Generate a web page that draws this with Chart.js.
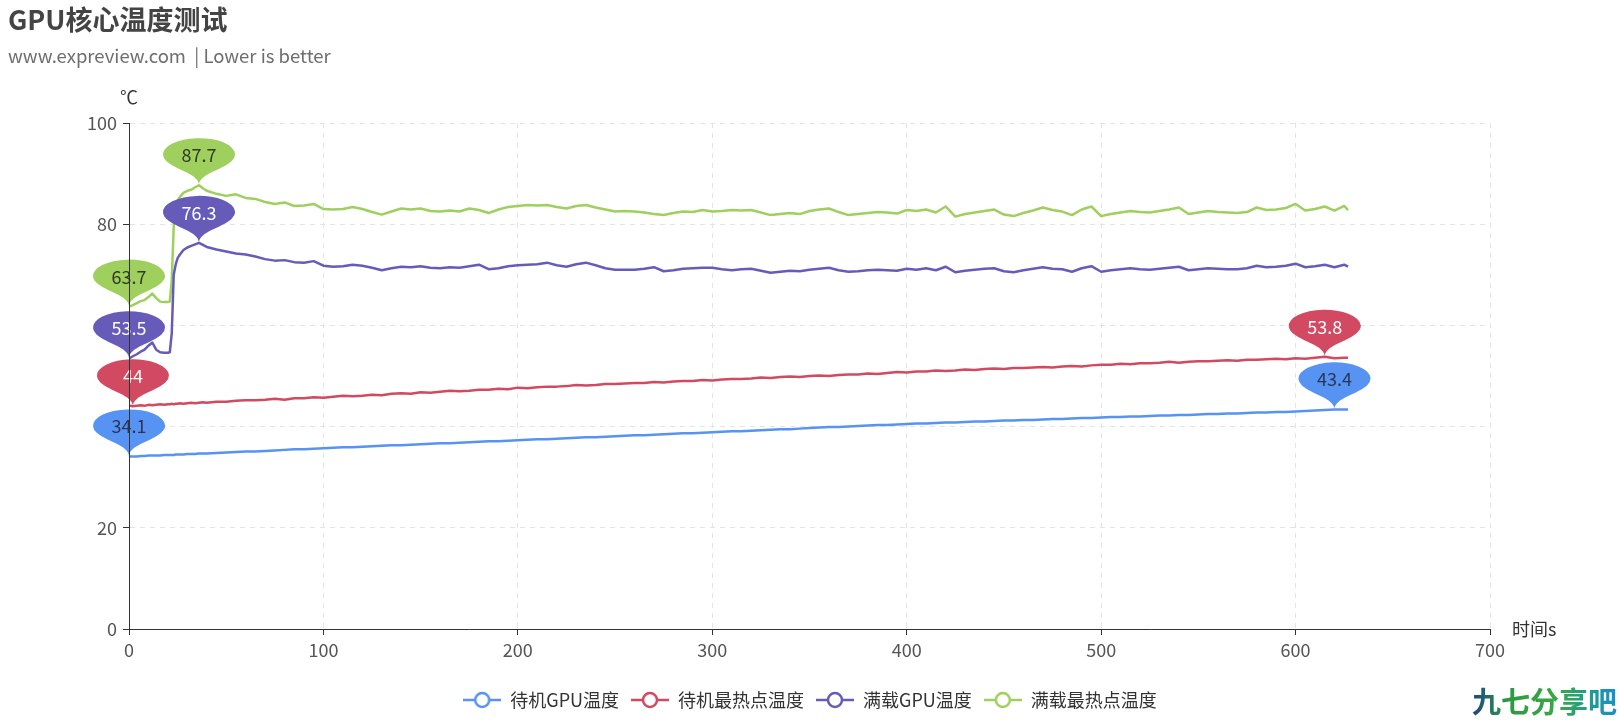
<!DOCTYPE html>
<html>
<head>
<meta charset="utf-8">
<title>GPU核心温度测试</title>
<script src="https://cdn.jsdelivr.net/npm/chart.js@4.4.1/dist/chart.umd.min.js"></script>
<style>
  html, body { margin: 0; padding: 0; background: #fff; }
  canvas { display: block; }
</style>
</head>
<body>
<canvas id="chart" width="1620" height="720"></canvas>
<script>
// seconds since start
const times = [
  0, 2, 4, 6, 8, 10, 12, 14, 16, 18, 20, 21, 22, 23, 24, 25, 26, 28, 30, 32, 34, 36, 38, 40,
  45, 50, 55, 60, 65, 70, 75, 80, 85, 90, 95, 100,
  105, 110, 115, 120, 125, 130, 135, 140, 145, 150, 155, 160, 165, 170, 175, 180, 185, 190, 195, 200,
  205, 210, 215, 220, 225, 230, 235, 240, 245, 250, 255, 260, 265, 270, 275, 280, 285, 290, 295, 300,
  305, 310, 315, 320, 325, 330, 335, 340, 345, 350, 355, 360, 365, 370, 375, 380, 385, 390, 395, 400,
  405, 410, 415, 420, 425, 430, 435, 440, 445, 450, 455, 460, 465, 470, 475, 480, 485, 490, 495, 500,
  505, 510, 515, 520, 525, 530, 535, 540, 545, 550, 555, 560, 565, 570, 575, 580, 585, 590, 595, 600,
  605, 610, 615, 620, 625, 627
];

const idleGpu = [
  34.1, 34.1, 34.1, 34.2, 34.2, 34.3, 34.3, 34.3, 34.3, 34.4, 34.4, 34.4, 34.4, 34.4, 34.5, 34.5, 34.5, 34.5, 34.6, 34.6, 34.6, 34.7, 34.7, 34.7,
  34.8, 34.9, 35.0, 35.1, 35.1, 35.2, 35.3, 35.4, 35.5, 35.5, 35.6, 35.7,
  35.8, 35.9, 35.9, 36.0, 36.1, 36.2, 36.3, 36.3, 36.4, 36.5, 36.6, 36.7, 36.7, 36.8, 36.9, 37.0, 37.1, 37.1, 37.2, 37.3,
  37.4, 37.5, 37.5, 37.6, 37.7, 37.8, 37.9, 37.9, 38.0, 38.1, 38.2, 38.3, 38.3, 38.4, 38.5, 38.6, 38.7, 38.7, 38.8, 38.9,
  39.0, 39.1, 39.1, 39.2, 39.3, 39.4, 39.5, 39.5, 39.6, 39.7, 39.8, 39.9, 39.9, 40.0, 40.1, 40.2, 40.3, 40.3, 40.4, 40.5,
  40.6, 40.6, 40.7, 40.8, 40.8, 40.9, 41.0, 41.0, 41.1, 41.2, 41.2, 41.3, 41.3, 41.4, 41.5, 41.5, 41.6, 41.7, 41.7, 41.8,
  41.9, 41.9, 42.0, 42.0, 42.1, 42.2, 42.2, 42.3, 42.3, 42.4, 42.5, 42.5, 42.6, 42.6, 42.7, 42.8, 42.8, 42.9, 42.9, 43.0,
  43.1, 43.2, 43.3, 43.4, 43.4, 43.4
];

const idleHot = [
  44.2, 44.0, 44.1, 44.2, 44.1, 44.3, 44.2, 44.3, 44.4, 44.3, 44.4, 44.4, 44.5, 44.4, 44.5, 44.5, 44.6, 44.5, 44.6, 44.7, 44.6, 44.7, 44.8, 44.7,
  44.9, 44.9, 45.1, 45.2, 45.2, 45.3, 45.5, 45.3, 45.6, 45.6, 45.8, 45.7,
  45.9, 46.1, 46.0, 46.1, 46.3, 46.2, 46.5, 46.6, 46.5, 46.8, 46.7, 46.9, 47.1, 47.0, 47.1, 47.3, 47.3, 47.5, 47.4, 47.7,
  47.6, 47.8, 47.9, 47.9, 48.0, 48.2, 48.1, 48.2, 48.4, 48.4, 48.5, 48.6, 48.6, 48.8, 48.7, 48.9, 49.0, 49.0, 49.2, 49.1,
  49.3, 49.4, 49.4, 49.5, 49.7, 49.6, 49.8, 49.9, 49.8, 50.0, 50.1, 50.0, 50.2, 50.3, 50.3, 50.5, 50.4, 50.6, 50.8, 50.7,
  50.9, 50.9, 51.1, 51.0, 51.1, 51.3, 51.2, 51.4, 51.5, 51.4, 51.6, 51.6, 51.7, 51.8, 51.7, 51.9, 52.0, 51.9, 52.1, 52.2,
  52.2, 52.4, 52.3, 52.5, 52.5, 52.6, 52.8, 52.6, 52.8, 52.9, 52.9, 53.0, 53.1, 53.0, 53.2, 53.2, 53.3, 53.4, 53.3, 53.5,
  53.4, 53.6, 53.8, 53.5, 53.6, 53.6
];

const loadGpu = [
  53.5, 53.9, 54.3, 54.8, 55.2, 56.0, 56.6, 55.2, 54.7, 54.6, 54.6, 54.7, 58.5, 70.0, 72.0, 73.3, 73.9, 74.9, 75.4, 75.7, 76.0, 76.3, 75.9, 75.5,
  75.0, 74.6, 74.2, 74.0, 73.6, 73.1, 72.8, 72.9, 72.5, 72.4, 72.7, 71.8,
  71.6, 71.7, 72.0, 71.8, 71.4, 70.9, 71.3, 71.6, 71.5, 71.7, 71.4, 71.3, 71.5, 71.4, 71.7, 72.0, 71.1, 71.3, 71.7, 71.9,
  72.0, 72.1, 72.4, 71.9, 71.6, 72.1, 72.4, 71.9, 71.3, 71.0, 71.0, 71.0, 71.2, 71.5, 70.7, 70.9, 71.2, 71.3, 71.4, 71.4,
  71.1, 70.9, 71.1, 71.2, 70.8, 70.4, 70.6, 70.8, 70.7, 71.0, 71.2, 71.4, 70.9, 70.6, 70.7, 70.9, 71.0, 70.9, 70.8, 71.2,
  71.0, 71.3, 70.9, 71.6, 70.5, 70.8, 71.0, 71.2, 71.3, 70.7, 70.5, 70.9, 71.2, 71.5, 71.2, 71.1, 70.6, 71.3, 71.7, 70.6,
  70.9, 71.1, 71.3, 71.1, 71.0, 71.2, 71.4, 71.6, 70.9, 71.1, 71.3, 71.2, 71.1, 71.1, 71.3, 71.8, 71.5, 71.6, 71.8, 72.2,
  71.5, 71.7, 72.0, 71.5, 72.0, 71.6
];

const loadHot = [
  63.7, 64.0, 64.4, 64.8, 65.0, 65.6, 66.3, 65.4, 64.7, 64.6, 64.6, 64.7, 69.0, 79.5, 83.0, 84.6, 85.3, 86.2, 86.6, 86.8, 87.3, 87.7, 87.1, 86.6,
  86.0, 85.6, 85.9, 85.2, 85.0, 84.4, 84.0, 84.3, 83.6, 83.7, 84.0, 83.0,
  82.9, 83.0, 83.4, 83.0, 82.4, 81.9, 82.5, 83.1, 82.9, 83.1, 82.6, 82.5, 82.7, 82.5, 83.1, 82.8, 82.2, 82.9, 83.4, 83.6,
  83.8, 83.7, 83.8, 83.4, 83.1, 83.6, 83.8, 83.3, 82.9, 82.5, 82.6, 82.5, 82.3, 82.0, 81.8, 82.2, 82.5, 82.4, 82.8, 82.5,
  82.6, 82.8, 82.7, 82.8, 82.3, 81.8, 82.0, 82.2, 82.0, 82.6, 82.9, 83.1, 82.4, 81.8, 82.0, 82.2, 82.4, 82.3, 82.1, 82.8,
  82.6, 82.9, 82.3, 83.5, 81.5, 82.0, 82.3, 82.6, 82.9, 81.9, 81.6, 82.2, 82.7, 83.3, 82.8, 82.5, 81.8, 82.9, 83.5, 81.6,
  82.0, 82.3, 82.6, 82.4, 82.3, 82.6, 82.9, 83.3, 82.0, 82.3, 82.6, 82.4, 82.3, 82.2, 82.4, 83.3, 82.8, 82.9, 83.2, 84.0,
  82.7, 83.0, 83.5, 82.7, 83.6, 82.8
];

const seriesNames = ['待机GPU温度', '待机最热点温度', '满载GPU温度', '满载最热点温度'];
const seriesValues = [idleGpu, idleHot, loadGpu, loadHot];
const seriesColors = ['#5793f3', '#d14a61', '#675bba', '#9fcf5d'];
const pinTextColors = ['#2b3552', '#ffffff', '#ffffff', '#2f3a22'];

const FONT = '"Noto Sans CJK SC", "Noto Sans", sans-serif';
Chart.defaults.font.family = FONT;

function legendIcon(color) {
  let c = document.createElement('canvas');
  c.width = 38;
  c.height = 20;
  let g = c.getContext('2d');
  g.strokeStyle = color;
  g.lineWidth = 2.5;
  g.beginPath();
  g.moveTo(0, 10);
  g.lineTo(38, 10);
  g.stroke();
  g.beginPath();
  g.arc(19, 10, 7, 0, Math.PI * 2);
  g.fillStyle = '#fff';
  g.fill();
  g.stroke();
  return c;
}

// echarts style "pin" balloon, tip sits on the point
function drawPin(ctx, x, y, color, text, textColor) {
  const r = 0.6, h = 2;
  const dy = r * r / (h - r);
  const cy = -h + r + dy;
  const angle = Math.asin(dy / r);
  const dx = Math.cos(angle) * r;
  const tanX = Math.sin(angle), tanY = Math.cos(angle);
  const cp = r * 0.6, cp2 = r * 0.7;
  const sx = 60, sy = 27;

  ctx.save();
  ctx.beginPath();
  ctx.save();
  ctx.translate(x, y);
  ctx.scale(sx, sy);
  ctx.moveTo(-dx, cy + dy);
  ctx.arc(0, cy, r, Math.PI - angle, Math.PI * 2 + angle);
  ctx.bezierCurveTo(dx - tanX * cp, cy + dy + tanY * cp, 0, -cp2, 0, 0);
  ctx.bezierCurveTo(0, -cp2, -dx + tanX * cp, cy + dy + tanY * cp, -dx, cy + dy);
  ctx.closePath();
  ctx.restore();
  ctx.fillStyle = color;
  ctx.fill();

  ctx.fillStyle = textColor;
  ctx.font = '18px ' + FONT;
  ctx.textAlign = 'center';
  ctx.textBaseline = 'middle';
  ctx.fillText(text, x, y + cy * sy + 1);
  ctx.restore();
}

const pinPlugin = {
  id: 'pins',
  afterDatasetsDraw(chart) {
    let ctx = chart.ctx;
    seriesValues.forEach((vals, i) => {
      let meta = chart.getDatasetMeta(i);
      let maxI = 0, minI = 0;
      vals.forEach((v, j) => {
        if (v > vals[maxI]) maxI = j;
        if (v < vals[minI]) minI = j;
      });
      [maxI, minI].forEach(j => {
        let p = meta.data[j];
        drawPin(ctx, p.x, p.y, seriesColors[i], String(vals[j]), pinTextColors[i]);
      });
    });
    // y axis line stays on top of the pins
    let area = chart.chartArea;
    ctx.save();
    ctx.strokeStyle = '#333';
    ctx.lineWidth = 1;
    ctx.beginPath();
    ctx.moveTo(area.left + 0.5, area.top);
    ctx.lineTo(area.left + 0.5, area.bottom);
    ctx.stroke();
    ctx.restore();
  }
};

const textPlugin = {
  id: 'texts',
  afterDraw(chart) {
    let ctx = chart.ctx;
    let area = chart.chartArea;
    ctx.save();
    ctx.textBaseline = 'middle';
    ctx.textAlign = 'left';

    ctx.fillStyle = '#444';
    ctx.font = 'bold 27px ' + FONT;
    ctx.fillText('GPU核心温度测试', 8, 20);

    ctx.fillStyle = '#6e6e6e';
    ctx.font = '18.5px ' + FONT;
    ctx.fillText('www.expreview.com  | Lower is better', 8, 56);

    ctx.fillStyle = '#333';
    ctx.font = '18px ' + FONT;
    ctx.textAlign = 'center';
    ctx.fillText('℃', area.left, 97);
    ctx.textAlign = 'left';
    ctx.fillText('时间s', area.right + 22, area.bottom);

    // site watermark
    ctx.font = 'bold 29px ' + FONT;
    let grad = ctx.createLinearGradient(1472, 0, 1615, 0);
    grad.addColorStop(0, '#1b4682');
    grad.addColorStop(0.25, '#2c9a42');
    grad.addColorStop(0.6, '#3aa845');
    grad.addColorStop(0.8, '#1f9e88');
    grad.addColorStop(1, '#1a8fc8');
    ctx.fillStyle = grad;
    ctx.fillText('九七分享吧', 1472, 702);
    ctx.restore();
  }
};

const datasets = seriesNames.map((name, i) => ({
  label: name,
  data: times.map((t, j) => ({ x: t, y: seriesValues[i][j] })),
  borderColor: seriesColors[i],
  backgroundColor: seriesColors[i],
  borderWidth: 2.5,
  borderJoinStyle: 'round',
  pointRadius: 0,
  pointHoverRadius: 0,
  pointStyle: legendIcon(seriesColors[i]),
  tension: 0,
  fill: false
}));

new Chart(document.getElementById('chart'), {
  type: 'line',
  data: { datasets: datasets },
  options: {
    responsive: false,
    animation: false,
    devicePixelRatio: 1,
    layout: { padding: { top: 123, left: 0, right: 0, bottom: 1 } },
    plugins: {
      tooltip: { enabled: false },
      legend: {
        position: 'bottom',
        labels: {
          usePointStyle: true,
          pointStyleWidth: 38,
          padding: 12,
          color: '#333',
          font: { size: 18 }
        }
      }
    },
    scales: {
      x: {
        type: 'linear',
        min: 0,
        max: 700,
        ticks: { stepSize: 100, color: '#555', font: { size: 18 }, padding: 4, maxRotation: 0 },
        grid: { color: '#e4e4e4', tickColor: '#333', tickLength: 6 },
        border: { color: '#333', dash: [5, 5] },
        afterFit(scale) { scale.height = 50; }
      },
      y: {
        min: 0,
        max: 100,
        ticks: { stepSize: 20, color: '#555', font: { size: 18 }, padding: 6 },
        grid: { color: '#e4e4e4', tickColor: '#333', tickLength: 6 },
        border: { color: '#333', dash: [5, 5] },
        afterFit(scale) { scale.width = 129; }
      },
      y2: {
        position: 'right',
        display: true,
        min: 0,
        max: 100,
        ticks: { display: false },
        grid: { display: false },
        border: { display: false },
        afterFit(scale) { scale.width = 130; }
      }
    }
  },
  plugins: [pinPlugin, textPlugin]
});
</script>
</body>
</html>
